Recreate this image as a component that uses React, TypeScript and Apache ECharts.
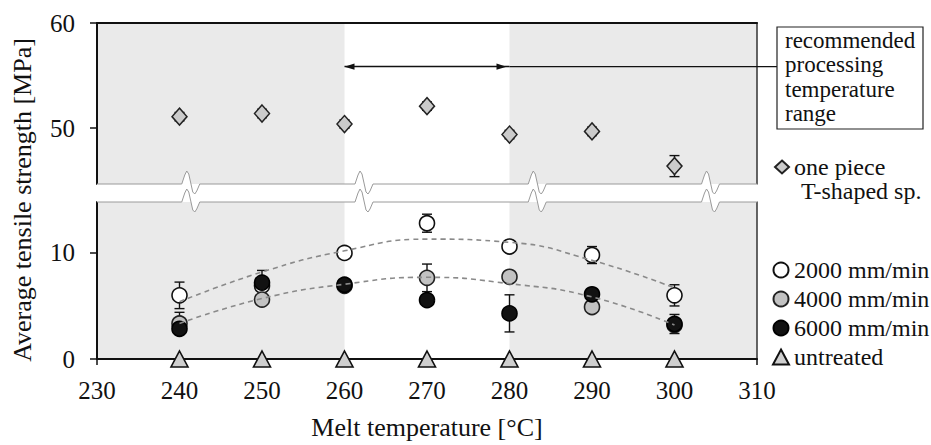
import React, { useEffect, useRef } from 'react';
import * as echarts from 'echarts';

// ---------- data ----------
const TEMPS = [240, 250, 260, 270, 280, 290, 300];
const ONE_PIECE = [51.1, 51.4, 50.4, 52.1, 49.4, 49.7, 46.4];
const ONE_PIECE_ERR = [0.4, 0.4, 0.4, 0.4, 0.4, 0.4, 1.0];
const S2000 = [6.0, 6.9, 10.0, 12.8, 10.6, 9.8, 6.0];
const ERR2000 = [1.25, 0.4, 0.4, 0.85, 0.4, 0.8, 1.0];
const S4000 = [3.35, 5.6, 6.9, 7.65, 7.75, 4.9, 3.2];
const ERR4000 = [1.05, 0.4, 0.4, 1.3, 0.4, 0.4, 0.4];
const S6000 = [2.85, 7.2, 7.0, 5.55, 4.3, 6.1, 3.3];
const ERR6000 = [0.5, 1.15, 0.4, 0.5, 1.75, 0.4, 0.9];
const UNTREATED = [0, 0, 0, 0, 0, 0, 0];
const FIT_UPPER = [5.4, 8.2, 10.2, 11.3, 11.0, 9.3, 6.7];
const FIT_LOWER = [3.35, 5.7, 7.05, 7.7, 7.1, 5.85, 3.2];
const TOP_TICKS = [50, 60];
const BOTTOM_TICKS = [0, 10];
const SHADED = [[230, 260], [280, 310]];
const RECOMMENDED = [260, 280];
const ARROW_LEVEL = 55.85;
const BREAK_MARKS = [241, 262, 283, 304];

// ---------- layout ----------
const W = 931;
const H = 445;
const GRID_LEFT = 97;
const GRID_W = 660;
const TOP_GRID_TOP = 23;
const TOP_GRID_H = 161;
const BOT_GRID_TOP = 202;
const BOT_GRID_H = 157;
const X_MIN = 230;
const X_MAX = 310;
const TOP_MIN = 44.7;
const TOP_MAX = 60;
const BOT_MIN = 0;
const BOT_MAX = 14.8;
const FONT = 'Liberation Serif';
const INK = '#111';

const xPx = (v: number) => GRID_LEFT + ((v - X_MIN) / (X_MAX - X_MIN)) * GRID_W;
const yTopPx = (v: number) => TOP_GRID_TOP + ((TOP_MAX - v) / (TOP_MAX - TOP_MIN)) * TOP_GRID_H;

const WIG = [[-6, 0], [-3, -9], [-1, -13], [1, -10], [3, -1], [5, 8], [7, 10], [9, 7], [12, 0]];
function edge(y: number): number[][] {
  const pts: number[][] = [[GRID_LEFT, y]];
  for (const m of BREAK_MARKS) {
    const p = xPx(m);
    for (const [dx, dy] of WIG) pts.push([p + dx, y + dy]);
  }
  pts.push([GRID_LEFT + GRID_W, y]);
  return pts;
}

function errorRender(params: any, api: any) {
  const x = api.value(0);
  const y = api.value(1);
  const e = api.value(2);
  const top = api.coord([x, y + e]);
  const bot = api.coord([x, y - e]);
  const hw = 5;
  const st = { stroke: INK, lineWidth: 1.4 };
  return {
    type: 'group',
    children: [
      { type: 'line', shape: { x1: top[0], y1: top[1], x2: bot[0], y2: bot[1] }, style: st },
      { type: 'line', shape: { x1: top[0] - hw, y1: top[1], x2: top[0] + hw, y2: top[1] }, style: st },
      { type: 'line', shape: { x1: bot[0] - hw, y1: bot[1], x2: bot[0] + hw, y2: bot[1] }, style: st },
    ],
  };
}

const pairs = (vals: number[]) => TEMPS.map((t, i) => [t, vals[i]]);
const triples = (vals: number[], errs: number[]) => TEMPS.map((t, i) => [t, vals[i], errs[i]]);

export default function App() {
  const ref = useRef<HTMLDivElement>(null);

  useEffect(() => {
    if (!ref.current) return;
    const chart = echarts.init(ref.current, undefined, { renderer: 'svg' });

    const labelStyle = { fontFamily: FONT, fontSize: 25, color: INK };
    const axisLineStyle = { color: INK, width: 2 };

    const upper = edge(BOT_GRID_TOP - 18);
    const lower = edge(BOT_GRID_TOP);
    const bandPoly = upper.concat(lower.slice().reverse());

    const ay = yTopPx(ARROW_LEVEL);
    const xl = xPx(RECOMMENDED[0]);
    const xr = xPx(RECOMMENDED[1]);

    const option: any = {
      animation: false,
      backgroundColor: '#fff',
      grid: [
        { left: GRID_LEFT, top: TOP_GRID_TOP, width: GRID_W, height: TOP_GRID_H, outerBoundsMode: 'none', containLabel: false },
        { left: GRID_LEFT, top: BOT_GRID_TOP, width: GRID_W, height: BOT_GRID_H, outerBoundsMode: 'none', containLabel: false },
      ],
      xAxis: [
        {
          type: 'value', gridIndex: 0, min: X_MIN, max: X_MAX, interval: 10, position: 'top', z: 1,
          axisLine: { show: true, onZero: false, lineStyle: axisLineStyle },
          axisTick: { show: false }, axisLabel: { show: false }, splitLine: { show: false },
        },
        {
          type: 'value', gridIndex: 1, min: X_MIN, max: X_MAX, interval: 10, position: 'bottom', z: 1,
          axisLine: { show: true, onZero: false, lineStyle: axisLineStyle },
          axisTick: { show: true, length: 6, lineStyle: { color: INK, width: 1.5 } },
          axisLabel: { ...labelStyle, margin: 19 },
          splitLine: { show: false },
          name: 'Melt temperature [°C]', nameLocation: 'middle', nameGap: 55,
          nameTextStyle: { fontFamily: FONT, fontSize: 26, color: INK },
        },
      ],
      yAxis: [
        {
          type: 'value', gridIndex: 0, min: TOP_MIN, max: TOP_MAX, z: 1,
          axisLine: { show: true, onZero: false, lineStyle: axisLineStyle },
          axisTick: { show: true, length: 7, customValues: TOP_TICKS, lineStyle: { color: INK, width: 1.5 } },
          axisLabel: { ...labelStyle, margin: 22, customValues: TOP_TICKS },
          splitLine: { show: false },
        },
        {
          type: 'value', gridIndex: 1, min: BOT_MIN, max: BOT_MAX, z: 1,
          axisLine: { show: true, onZero: false, lineStyle: axisLineStyle },
          axisTick: { show: true, length: 7, customValues: BOTTOM_TICKS, lineStyle: { color: INK, width: 1.5 } },
          axisLabel: { ...labelStyle, margin: 22, customValues: BOTTOM_TICKS },
          splitLine: { show: false },
        },
        {
          type: 'value', gridIndex: 0, min: TOP_MIN, max: TOP_MAX, position: 'right', z: 1,
          axisLine: { show: true, onZero: false, lineStyle: { color: '#333', width: 1.5 } },
          axisTick: { show: false }, axisLabel: { show: false }, splitLine: { show: false },
        },
        {
          type: 'value', gridIndex: 1, min: BOT_MIN, max: BOT_MAX, position: 'right', z: 1,
          axisLine: { show: true, onZero: false, lineStyle: { color: '#333', width: 1.5 } },
          axisTick: { show: false }, axisLabel: { show: false }, splitLine: { show: false },
        },
      ],
      legend: [
        {
          data: ['one piece'], left: 774, top: 155, orient: 'vertical', padding: 0,
          itemWidth: 14, itemHeight: 13, itemGap: 5, selectedMode: false,
          textStyle: { fontFamily: FONT, fontSize: 24, color: INK, lineHeight: 22 },
        },
        {
          data: ['2000 mm/min', '4000 mm/min', '6000 mm/min', 'untreated'], left: 772, top: 258, orient: 'vertical',
          padding: 0, itemWidth: 16, itemHeight: 15, itemGap: 5, selectedMode: false,
          textStyle: { fontFamily: FONT, fontSize: 24, color: INK, lineHeight: 24 },
        },
      ],
      series: [
        {
          name: 'bgTop', type: 'line', xAxisIndex: 0, yAxisIndex: 0, data: [], z: 0, silent: true,
          markArea: {
            silent: true, itemStyle: { color: '#eaeaea' },
            data: SHADED.map(([a, b]) => [{ xAxis: a }, { xAxis: b }]),
          },
          markLine: {
            silent: true, symbol: ['none', 'none'],
            lineStyle: { color: INK, width: 1.3, type: 'solid' }, label: { show: false },
            emphasis: { disabled: true },
            data: [[{ coord: [RECOMMENDED[0], ARROW_LEVEL] }, { coord: [RECOMMENDED[1], ARROW_LEVEL] }]],
          },
        },
        {
          name: 'bgBottom', type: 'line', xAxisIndex: 1, yAxisIndex: 1, data: [], z: 0, silent: true,
          markArea: {
            silent: true, itemStyle: { color: '#eaeaea' },
            data: SHADED.map(([a, b]) => [{ xAxis: a }, { xAxis: b }]),
          },
        },
        {
          name: 'errOne', type: 'custom', xAxisIndex: 0, yAxisIndex: 0, z: 2, silent: true,
          renderItem: errorRender, data: triples(ONE_PIECE, ONE_PIECE_ERR), encode: { x: 0, y: 1 },
        },
        {
          name: 'one piece', type: 'scatter', xAxisIndex: 0, yAxisIndex: 0, z: 3,
          symbol: 'diamond', symbolSize: [15, 17],
          itemStyle: { color: '#cbcbcb', borderColor: '#222', borderWidth: 1.5, opacity: 1 },
          data: pairs(ONE_PIECE),
        },
        {
          name: 'err2000', type: 'custom', xAxisIndex: 1, yAxisIndex: 1, z: 2, silent: true,
          renderItem: errorRender, data: triples(S2000, ERR2000), encode: { x: 0, y: 1 },
        },
        {
          name: 'err4000', type: 'custom', xAxisIndex: 1, yAxisIndex: 1, z: 2, silent: true,
          renderItem: errorRender, data: triples(S4000, ERR4000), encode: { x: 0, y: 1 },
        },
        {
          name: 'err6000', type: 'custom', xAxisIndex: 1, yAxisIndex: 1, z: 2, silent: true,
          renderItem: errorRender, data: triples(S6000, ERR6000), encode: { x: 0, y: 1 },
        },
        {
          name: '2000 mm/min', type: 'scatter', xAxisIndex: 1, yAxisIndex: 1, z: 3,
          symbol: 'circle', symbolSize: 15,
          itemStyle: { color: '#ffffff', borderColor: INK, borderWidth: 1.6, opacity: 1 },
          data: pairs(S2000),
        },
        {
          name: '4000 mm/min', type: 'scatter', xAxisIndex: 1, yAxisIndex: 1, z: 3,
          symbol: 'circle', symbolSize: 15,
          itemStyle: { color: '#c2c2c2', borderColor: '#222', borderWidth: 1.6, opacity: 1 },
          data: pairs(S4000),
        },
        {
          name: '6000 mm/min', type: 'scatter', xAxisIndex: 1, yAxisIndex: 1, z: 3,
          symbol: 'circle', symbolSize: 15,
          itemStyle: { color: '#121212', borderColor: '#000', borderWidth: 1.6, opacity: 1 },
          data: pairs(S6000),
        },
        {
          name: 'fitUpper', type: 'line', xAxisIndex: 1, yAxisIndex: 1, z: 4, silent: true,
          smooth: 0.5, showSymbol: false, symbol: 'none',
          lineStyle: { color: '#8a8a8a', width: 1.6, type: [5, 4] },
          data: pairs(FIT_UPPER),
        },
        {
          name: 'fitLower', type: 'line', xAxisIndex: 1, yAxisIndex: 1, z: 4, silent: true,
          smooth: 0.5, showSymbol: false, symbol: 'none',
          lineStyle: { color: '#8a8a8a', width: 1.6, type: [5, 4] },
          data: pairs(FIT_LOWER),
        },
        {
          name: 'untreated', type: 'scatter', xAxisIndex: 1, yAxisIndex: 1, z: 5,
          symbol: 'triangle', symbolSize: [17, 16],
          itemStyle: { color: '#cfcfcf', borderColor: INK, borderWidth: 1.6, opacity: 1 },
          data: pairs(UNTREATED),
        },
      ],
      graphic: [
        {
          type: 'text', x: 22, y: 200, rotation: Math.PI / 2, silent: true,
          style: {
            text: 'Average tensile strength [MPa]', fontFamily: FONT, fontSize: 26, fill: INK,
            align: 'center', verticalAlign: 'middle',
          },
        },
        {
          type: 'polygon', z: 20, silent: true,
          shape: { points: bandPoly },
          style: { fill: '#ffffff', stroke: 'none' },
        },
        {
          type: 'polyline', z: 21, silent: true,
          shape: { points: upper },
          style: { stroke: '#9a9a9a', lineWidth: 1, fill: 'none' },
        },
        {
          type: 'polyline', z: 21, silent: true,
          shape: { points: lower },
          style: { stroke: '#9a9a9a', lineWidth: 1, fill: 'none' },
        },
        {
          type: 'polygon', z: 21, silent: true,
          shape: { points: [[xl, ay], [xl + 10, ay - 3.2], [xl + 10, ay + 3.2]] },
          style: { fill: INK, stroke: 'none' },
        },
        {
          type: 'polygon', z: 21, silent: true,
          shape: { points: [[xr - 3, ay], [xr - 13, ay - 3.2], [xr - 13, ay + 3.2]] },
          style: { fill: INK, stroke: 'none' },
        },
        {
          type: 'line', z: 21, silent: true,
          shape: { x1: xr, y1: ay, x2: 777, y2: ay },
          style: { stroke: INK, lineWidth: 1.3 },
        },
        {
          type: 'rect', z: 21, silent: true,
          shape: { x: 777, y: 27, width: 146, height: 102 },
          style: { fill: '#fff', stroke: '#222', lineWidth: 1.2 },
        },
        {
          type: 'text', z: 22, silent: true, x: 785, y: 28,
          style: {
            text: 'recommended\nprocessing\ntemperature\nrange', fontFamily: FONT, fontSize: 23,
            lineHeight: 24.5, fill: INK, align: 'left', verticalAlign: 'top',
          },
        },
        {
          type: 'text', z: 22, silent: true, x: 801, y: 191,
          style: {
            text: 'T-shaped sp.', fontFamily: FONT, fontSize: 24, lineHeight: 22, fill: INK,
            align: 'left', verticalAlign: 'middle',
          },
        },
      ],
    };

    chart.setOption(option);
    return () => chart.dispose();
  }, []);

  return (
    <div
      ref={ref}
      style={{ position: 'fixed', left: 0, top: 0, width: W, height: H }}
    />
  );
}
